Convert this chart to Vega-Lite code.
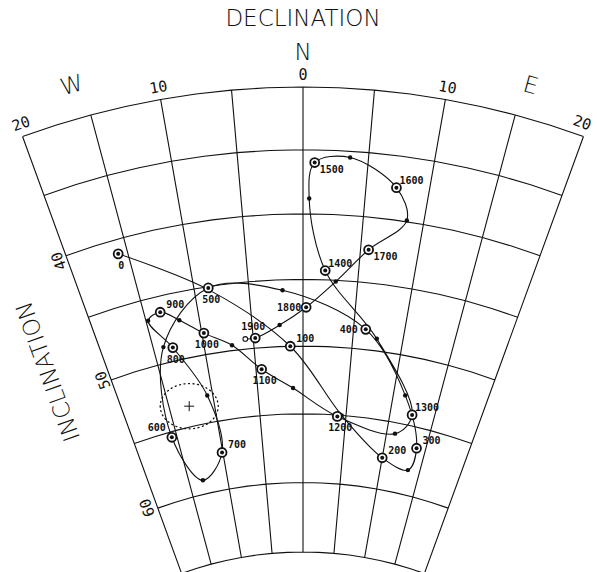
{
  "$schema": "https://vega.github.io/schema/vega-lite/v6.json",
  "width": 597,
  "height": 572,
  "padding": 0,
  "autosize": {"type": "none"},
  "background": "white",
  "config": {"view": {"stroke": null}},
  "projection": {"type": "azimuthalEqualArea", "scale": 820, "translate": [303, 907], "rotate": [0, -90, 180], "reflectX": true},
  "datasets": {
    "path": [
      {"year": 0, "dec": -15.8, "inc": 41.1, "kind": "ring"},
      {"year": 50, "dec": -8.6, "inc": 45.3, "kind": "dot"},
      {"year": 100, "dec": -1.3, "inc": 50.0, "kind": "ring"},
      {"year": 150, "dec": 4.5, "inc": 55.0, "kind": "dot"},
      {"year": 200, "dec": 10.0, "inc": 57.7, "kind": "ring"},
      {"year": 250, "dec": 13.5, "inc": 58.2, "kind": "dot"},
      {"year": 300, "dec": 13.9, "inc": 56.5, "kind": "ring"},
      {"year": 350, "dec": 11.3, "inc": 52.9, "kind": "dot"},
      {"year": 400, "dec": 6.2, "inc": 48.5, "kind": "ring"},
      {"year": 450, "dec": -1.9, "inc": 45.8, "kind": "dot"},
      {"year": 500, "dec": -8.7, "inc": 45.1, "kind": "ring"},
      {"year": 550, "dec": -14.0, "inc": 48.8, "kind": "dot"},
      {"year": 600, "dec": -15.6, "inc": 55.4, "kind": "ring"},
      {"year": 650, "dec": -13.2, "inc": 59.0, "kind": "dot"},
      {"year": 700, "dec": -10.1, "inc": 57.3, "kind": "ring"},
      {"year": 750, "dec": -10.6, "inc": 53.0, "kind": "dot"},
      {"year": 800, "dec": -13.1, "inc": 49.0, "kind": "ring"},
      {"year": 850, "dec": -14.8, "inc": 46.6, "kind": "dot"},
      {"year": 900, "dec": -13.5, "inc": 46.2, "kind": "ring"},
      {"year": 950, "dec": -11.9, "inc": 47.1, "kind": "dot"},
      {"year": 1000, "dec": -9.8, "inc": 48.4, "kind": "ring"},
      {"year": 1050, "dec": -7.2, "inc": 49.6, "kind": "dot"},
      {"year": 1100, "dec": -4.4, "inc": 51.6, "kind": "ring"},
      {"year": 1150, "dec": -1.1, "inc": 53.1, "kind": "dot"},
      {"year": 1200, "dec": 4.0, "inc": 55.1, "kind": "ring"},
      {"year": 1250, "dec": 11.0, "inc": 55.8, "kind": "dot"},
      {"year": 1300, "dec": 12.5, "inc": 54.2, "kind": "ring"},
      {"year": 1350, "dec": 7.4, "inc": 49.1, "kind": "dot"},
      {"year": 1400, "dec": 2.0, "inc": 44.3, "kind": "ring"},
      {"year": 1450, "dec": 0.5, "inc": 38.8, "kind": "dot"},
      {"year": 1500, "dec": 0.9, "inc": 36.0, "kind": "ring"},
      {"year": 1550, "dec": 3.6, "inc": 35.5, "kind": "dot"},
      {"year": 1600, "dec": 7.4, "inc": 37.5, "kind": "ring"},
      {"year": 1650, "dec": 8.6, "inc": 39.9, "kind": "dot"},
      {"year": 1700, "dec": 5.7, "inc": 42.5, "kind": "ring"},
      {"year": 1750, "dec": 3.0, "inc": 45.1, "kind": "dot"},
      {"year": 1800, "dec": 0.3, "inc": 47.1, "kind": "ring"},
      {"year": 1850, "dec": -2.3, "inc": 48.4, "kind": "dot"},
      {"year": 1900, "dec": -4.8, "inc": 49.25, "kind": "ring"},
      {"year": 1950, "dec": -5.8, "inc": 49.25, "kind": "open"}
    ],
    "mean": [{"dec": -12.8, "inc": 53.5}],
    "decNumbers": [
      {"text": "20", "dec": -19.8, "inc": 29.0},
      {"text": "10", "dec": -10, "inc": 29.0},
      {"text": "0", "dec": 0, "inc": 29.0},
      {"text": "10", "dec": 10, "inc": 29.0},
      {"text": "20", "dec": 19.6, "inc": 29.0}
    ],
    "decTitles": [
      {"text": "W", "dec": -15.7, "inc": 27.3},
      {"text": "N", "dec": 0, "inc": 27.2},
      {"text": "E", "dec": 15.5, "inc": 27.4},
      {"text": "DECLINATION", "dec": 0, "inc": 24.4}
    ],
    "incNumbers": [
      {"text": "40", "dec": -20.7, "inc": 40.2},
      {"text": "50", "dec": -20.8, "inc": 49.8},
      {"text": "60", "dec": -21.3, "inc": 59.7}
    ],
    "incTitle": [
      {"text": "INCLINATION", "dec": -25.4, "inc": 47.6}
    ]
  },
  "layer": [
    {
      "data": {"graticule": {"extent": [[-20, 30], [20.001, 65.001]], "step": [5, 5]}},
      "mark": {"type": "geoshape", "filled": false, "stroke": "#111", "strokeWidth": 1.1}
    },
    {
      "data": {"name": "path"},
      "mark": {"type": "line", "interpolate": "catmull-rom", "stroke": "#111", "strokeWidth": 1.1},
      "encoding": {
        "longitude": {"field": "dec", "type": "quantitative"},
        "latitude": {"field": "inc", "type": "quantitative"},
        "order": {"field": "year", "type": "quantitative"}
      }
    },
    {
      "data": {"name": "path"},
      "transform": [{"filter": "datum.kind === 'dot'"}],
      "mark": {"type": "point", "shape": "circle", "filled": true, "fill": "#111", "stroke": null, "size": 20, "opacity": 1},
      "encoding": {
        "longitude": {"field": "dec", "type": "quantitative"},
        "latitude": {"field": "inc", "type": "quantitative"}
      }
    },
    {
      "data": {"name": "mean"},
      "mark": {"type": "point", "shape": "M-1,0A1,0.78,0,1,0,1,0A1,0.78,0,1,0,-1,0Z", "filled": false, "stroke": "#111", "strokeWidth": 1.3, "strokeDash": [1, 3.5], "strokeCap": "round", "size": 3364, "opacity": 1},
      "encoding": {
        "longitude": {"field": "dec", "type": "quantitative"},
        "latitude": {"field": "inc", "type": "quantitative"}
      }
    },
    {
      "data": {"name": "mean"},
      "mark": {"type": "point", "shape": "M-1,0L1,0M0,-1L0,1", "filled": false, "stroke": "#111", "strokeWidth": 1, "size": 100, "opacity": 1},
      "encoding": {
        "longitude": {"field": "dec", "type": "quantitative"},
        "latitude": {"field": "inc", "type": "quantitative"}
      }
    },
    {
      "data": {"name": "path"},
      "transform": [{"filter": "datum.kind === 'ring'"}],
      "mark": {"type": "point", "shape": "circle", "filled": true, "fill": "white", "fillOpacity": 1, "stroke": "#111", "strokeWidth": 1.8, "size": 80, "opacity": 1},
      "encoding": {
        "longitude": {"field": "dec", "type": "quantitative"},
        "latitude": {"field": "inc", "type": "quantitative"}
      }
    },
    {
      "data": {"name": "path"},
      "transform": [{"filter": "datum.kind === 'ring'"}],
      "mark": {"type": "point", "shape": "circle", "filled": true, "fill": "#111", "stroke": null, "size": 16, "opacity": 1},
      "encoding": {
        "longitude": {"field": "dec", "type": "quantitative"},
        "latitude": {"field": "inc", "type": "quantitative"}
      }
    },
    {
      "data": {"name": "path"},
      "transform": [{"filter": "datum.kind === 'open'"}],
      "mark": {"type": "point", "shape": "circle", "filled": true, "fill": "white", "fillOpacity": 1, "stroke": "#111", "strokeWidth": 1.1, "size": 22, "opacity": 1},
      "encoding": {
        "longitude": {"field": "dec", "type": "quantitative"},
        "latitude": {"field": "inc", "type": "quantitative"}
      }
    },
    {
      "data": {"name": "path"},
      "transform": [{"filter": {"field": "year", "oneOf": [0, 500, 800, 1000, 1100, 1200]}}],
      "mark": {"type": "text", "font": "DejaVu Sans Mono", "fontWeight": "bold", "fontSize": 10, "dx": 3, "dy": 12, "align": "center", "baseline": "middle", "fill": "#111"},
      "encoding": {
        "longitude": {"field": "dec", "type": "quantitative"},
        "latitude": {"field": "inc", "type": "quantitative"},
        "text": {"field": "year", "type": "nominal"}
      }
    },
    {
      "data": {"name": "path"},
      "transform": [{"filter": {"field": "year", "oneOf": [100, 200, 300, 700, 900, 1300, 1400, 1600]}}],
      "mark": {"type": "text", "font": "DejaVu Sans Mono", "fontWeight": "bold", "fontSize": 10, "dx": 15, "dy": -7, "align": "center", "baseline": "middle", "fill": "#111"},
      "encoding": {
        "longitude": {"field": "dec", "type": "quantitative"},
        "latitude": {"field": "inc", "type": "quantitative"},
        "text": {"field": "year", "type": "nominal"}
      }
    },
    {
      "data": {"name": "path"},
      "transform": [{"filter": {"field": "year", "oneOf": [1500, 1700]}}],
      "mark": {"type": "text", "font": "DejaVu Sans Mono", "fontWeight": "bold", "fontSize": 10, "dx": 17, "dy": 7, "align": "center", "baseline": "middle", "fill": "#111"},
      "encoding": {
        "longitude": {"field": "dec", "type": "quantitative"},
        "latitude": {"field": "inc", "type": "quantitative"},
        "text": {"field": "year", "type": "nominal"}
      }
    },
    {
      "data": {"name": "path"},
      "transform": [{"filter": {"field": "year", "oneOf": [400, 1800]}}],
      "mark": {"type": "text", "font": "DejaVu Sans Mono", "fontWeight": "bold", "fontSize": 10, "dx": -17, "dy": 1, "align": "center", "baseline": "middle", "fill": "#111"},
      "encoding": {
        "longitude": {"field": "dec", "type": "quantitative"},
        "latitude": {"field": "inc", "type": "quantitative"},
        "text": {"field": "year", "type": "nominal"}
      }
    },
    {
      "data": {"name": "path"},
      "transform": [{"filter": {"field": "year", "oneOf": [600]}}],
      "mark": {"type": "text", "font": "DejaVu Sans Mono", "fontWeight": "bold", "fontSize": 10, "dx": -15, "dy": -9, "align": "center", "baseline": "middle", "fill": "#111"},
      "encoding": {
        "longitude": {"field": "dec", "type": "quantitative"},
        "latitude": {"field": "inc", "type": "quantitative"},
        "text": {"field": "year", "type": "nominal"}
      }
    },
    {
      "data": {"name": "path"},
      "transform": [{"filter": {"field": "year", "oneOf": [1900]}}],
      "mark": {"type": "text", "font": "DejaVu Sans Mono", "fontWeight": "bold", "fontSize": 10, "dx": -2, "dy": -11, "align": "center", "baseline": "middle", "fill": "#111"},
      "encoding": {
        "longitude": {"field": "dec", "type": "quantitative"},
        "latitude": {"field": "inc", "type": "quantitative"},
        "text": {"field": "year", "type": "nominal"}
      }
    },
    {
      "data": {"name": "decNumbers"},
      "mark": {"type": "text", "font": "DejaVu Sans Mono", "fontSize": 15, "align": "center", "baseline": "middle", "fill": "#111"},
      "encoding": {
        "longitude": {"field": "dec", "type": "quantitative"},
        "latitude": {"field": "inc", "type": "quantitative"},
        "angle": {"field": "dec", "type": "quantitative", "scale": {"domain": [-20, 20], "range": [-20, 20]}},
        "text": {"field": "text", "type": "nominal"}
      }
    },
    {
      "data": {"name": "decTitles"},
      "mark": {"type": "text", "font": "DejaVu Sans", "fontWeight": 300, "fontSize": 23, "align": "center", "baseline": "middle", "fill": "#111"},
      "encoding": {
        "longitude": {"field": "dec", "type": "quantitative"},
        "latitude": {"field": "inc", "type": "quantitative"},
        "angle": {"field": "dec", "type": "quantitative", "scale": {"domain": [-20, 20], "range": [-20, 20]}},
        "text": {"field": "text", "type": "nominal"}
      }
    },
    {
      "data": {"name": "incNumbers"},
      "mark": {"type": "text", "font": "DejaVu Sans Mono", "fontSize": 15, "angle": -110, "align": "center", "baseline": "middle", "fill": "#111"},
      "encoding": {
        "longitude": {"field": "dec", "type": "quantitative"},
        "latitude": {"field": "inc", "type": "quantitative"},
        "text": {"field": "text", "type": "nominal"}
      }
    },
    {
      "data": {"name": "incTitle"},
      "mark": {"type": "text", "font": "DejaVu Sans", "fontWeight": 300, "fontSize": 23, "angle": -110, "align": "center", "baseline": "middle", "fill": "#111"},
      "encoding": {
        "longitude": {"field": "dec", "type": "quantitative"},
        "latitude": {"field": "inc", "type": "quantitative"},
        "text": {"field": "text", "type": "nominal"}
      }
    }
  ]
}
